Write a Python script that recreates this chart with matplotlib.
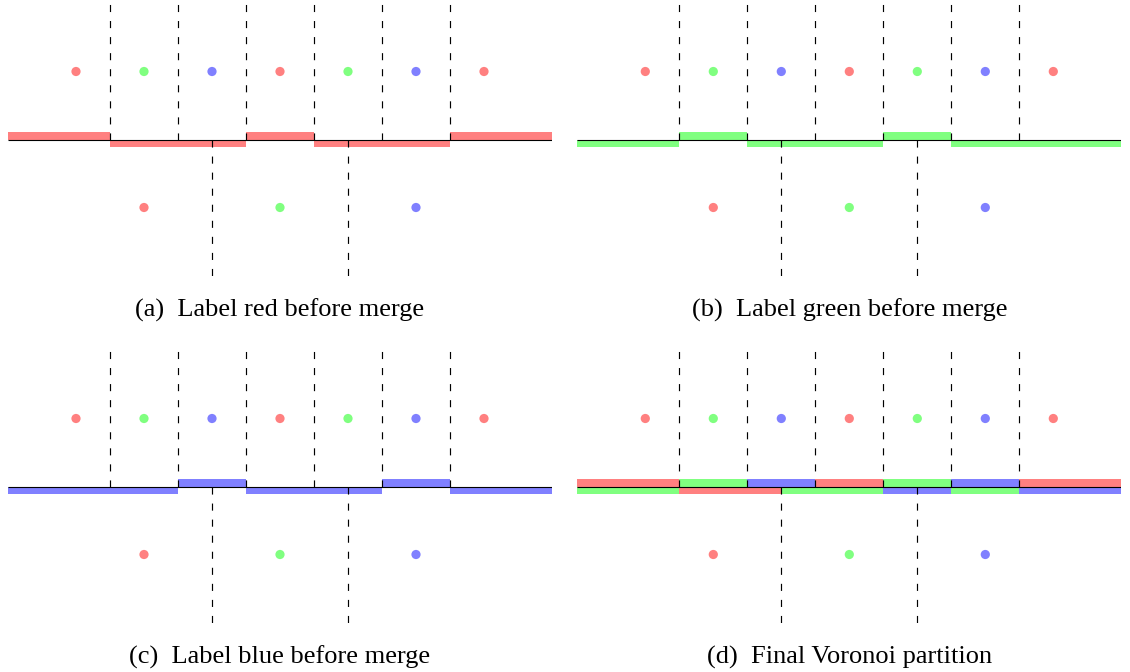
import numpy as np
import matplotlib
matplotlib.use('Agg')
import matplotlib.pyplot as plt

# sites: upper row and lower row, with their labels
top_x = [0, 1, 2, 3, 4, 5, 6]
top_lab = ['red', 'green', 'blue', 'red', 'green', 'blue', 'red']
bot_x = [1, 3, 5]
bot_lab = ['red', 'green', 'blue']

# cell borders (dashed)
top_bounds = [0.5, 1.5, 2.5, 3.5, 4.5, 5.5]
bot_bounds = [2, 4]

x_min, x_max = -1, 7

# labelled pieces of the border line: (start, end, label)
red_above = [(-1, 0.5, 'red'), (2.5, 3.5, 'red'), (5.5, 7, 'red')]
red_below = [(0.5, 2.5, 'red'), (3.5, 5.5, 'red')]

green_above = [(0.5, 1.5, 'green'), (3.5, 4.5, 'green')]
green_below = [(-1, 0.5, 'green'), (1.5, 3.5, 'green'), (4.5, 7, 'green')]

blue_above = [(1.5, 2.5, 'blue'), (4.5, 5.5, 'blue')]
blue_below = [(-1, 1.5, 'blue'), (2.5, 4.5, 'blue'), (5.5, 7, 'blue')]

final_above = [(-1, 0.5, 'red'), (0.5, 1.5, 'green'), (1.5, 2.5, 'blue'), (2.5, 3.5, 'red'),
               (3.5, 4.5, 'green'), (4.5, 5.5, 'blue'), (5.5, 7, 'red')]
final_below = [(-1, 0.5, 'green'), (0.5, 2, 'red'), (2, 3.5, 'green'), (3.5, 4.5, 'blue'),
               (4.5, 5.5, 'green'), (5.5, 7, 'blue')]

captions = ['(a)  Label red before merge', '(b)  Label green before merge',
            '(c)  Label blue before merge', '(d)  Final Voronoi partition']

cols = {'red': '#ff8080', 'green': '#80ff80', 'blue': '#8080ff'}

W, H = 1130, 672
fig = plt.figure(figsize=(W / 100, H / 100), dpi=100)

panels = [(red_above, red_below), (green_above, green_below),
          (blue_above, blue_below), (final_above, final_below)]
# pixel offsets of each panel (left edge of the line, y of the line)
offs = [(8, 139.5), (577.3, 139.5), (8, 486.5), (577.3, 486.5)]
unit = 68.0
bh = 0.105

for k, (above, below) in enumerate(panels):
    px, py = offs[k]
    ax = fig.add_axes([px / W, (H - py - 2 * unit) / H, 8 * unit / W, 4 * unit / H])
    ax.set_xlim(x_min, x_max)
    ax.set_ylim(-2, 2)
    ax.axis('off')

    for s, e, l in above:
        ax.broken_barh([(s, e - s)], (0, bh), facecolors=cols[l], edgecolor='none', zorder=1)
    for s, e, l in below:
        ax.broken_barh([(s, e - s)], (-bh, bh), facecolors=cols[l], edgecolor='none', zorder=1)

    ax.plot([x_min, x_max], [0, 0], color='black', lw=0.8, zorder=2, solid_capstyle='butt')

    for b in top_bounds:
        ax.plot([b, b], [0, 2], color='black', lw=0.85, dashes=(6, 7.6), zorder=3)
    for b in bot_bounds:
        ax.plot([b, b], [0, -2], color='black', lw=0.85, dashes=(6, 7.6), zorder=3)

    ax.scatter(top_x, [1] * len(top_x), s=44, c=[cols[l] for l in top_lab], edgecolors='none', zorder=4)
    ax.scatter(bot_x, [-1] * len(bot_x), s=44, c=[cols[l] for l in bot_lab], edgecolors='none', zorder=4)

    fig.text((px + 4 * unit) / W, (H - (py + 177.2)) / H, captions[k], ha='center', va='baseline',
             fontsize=19, family=['Liberation Serif', 'DejaVu Serif'])

plt.savefig('out.png', dpi=100)
